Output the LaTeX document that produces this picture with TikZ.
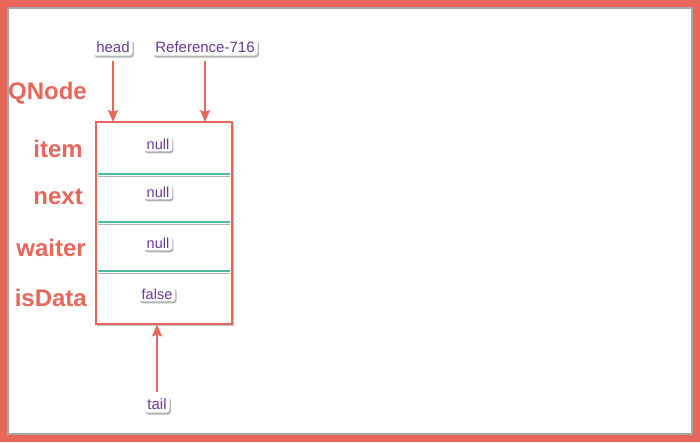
\documentclass[tikz,border=0pt]{standalone}
\usepackage{fontspec}
\setmainfont{Liberation Sans}
\usetikzlibrary{arrows.meta,shadows}
\definecolor{qred}{HTML}{E8665A}
\definecolor{qpurple}{HTML}{6A3A96}
\definecolor{qteal}{HTML}{4DB8A2}
\tikzset{
  fieldlbl/.style={text=qred,font=\fontsize{24}{26}\selectfont\bfseries,anchor=east,inner sep=1pt},
  tag/.style={text=qpurple,font=\fontsize{15}{17}\selectfont,fill=white,rounded corners=3pt,inner xsep=3pt,inner ysep=3pt,drop shadow={shadow xshift=1.2pt,shadow yshift=-2pt,opacity=0.6}},
  val/.style={tag,font=\fontsize{14.5}{16}\selectfont,inner ysep=2pt},
  ptr/.style={draw=qred,line width=1.4pt,-{Stealth[length=12pt,width=10pt,inset=2pt]}},
  sep/.style={draw=qteal,line width=1.6pt},
  sepsh/.style={draw=black!30,line width=1.2pt}
}
\begin{document}
\begin{tikzpicture}[x=1pt,y=-1pt]
\useasboundingbox (0,0) rectangle (700,442);
% outer frame
\draw[black!35,line width=2pt] (8,8) rectangle (692,434);
\draw[qred,line width=7pt] (3.5,3.5) rectangle (696.5,438.5);
% node box
\draw[black!25,line width=1.5pt] (97.5,123.5) rectangle (233.5,325.5);
\node[draw=qred,line width=1.4pt,fill=white,minimum width=136pt,minimum height=202pt,inner sep=0pt] (box) at (164,223) {};
% separators
\foreach \yy in {174,222,271}{
  \draw[sepsh] (98,\yy+2.2) -- (230,\yy+2.2);
  \draw[sep] (98,\yy) -- (230,\yy);
}
% labels
\node[fieldlbl] (qnode) at (88,93) {QNode};
\node[fieldlbl] (item) at (84,149) {item};
\node[fieldlbl] (next) at (84,197) {next};
\node[fieldlbl] (waiter) at (87,248) {waiter};
\node[fieldlbl] (isdata) at (88,298) {isData};
% values
\node[val] (v1) at (158,144) {null};
\node[val] (v2) at (158,192) {null};
\node[val] (v3) at (158,243) {null};
\node[val] (v4) at (157,294) {false};
% pointers
\node[tag] (head) at (113,47) {head};
\node[tag] (ref) at (205,47) {Reference-716};
\node[tag] (tail) at (157,404) {tail};
\coordinate (ht) at (113,122);
\coordinate (rt) at (205,122);
\coordinate (tt) at (157,324.5);
\draw[ptr] (head.south |- 0,61) -- (ht);
\draw[ptr] (ref.south |- 0,61) -- (rt);
\draw[ptr] (tail.north |- 0,392) -- (tt);
\end{tikzpicture}
\end{document}
